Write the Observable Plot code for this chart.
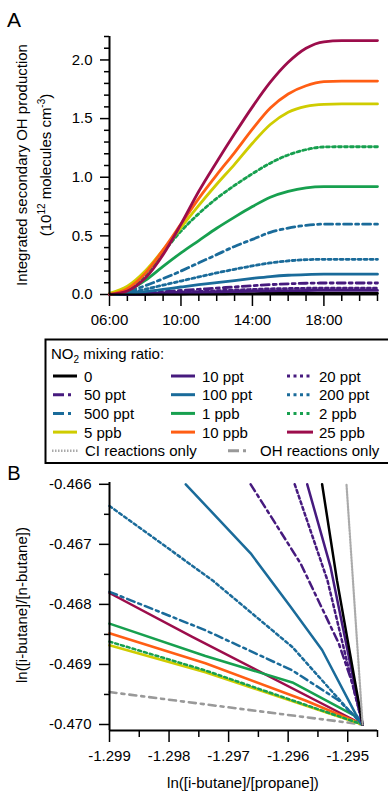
<!DOCTYPE html>
<html><head><meta charset="utf-8">
<script src="https://cdn.jsdelivr.net/npm/d3@7"></script>
<script src="https://cdn.jsdelivr.net/npm/@observablehq/plot@0.6"></script>
<style>
body{margin:0;background:#fff;font-family:"Liberation Sans",Arial,sans-serif;}
#wrap{position:relative;width:388px;height:793px;overflow:hidden;background:#fff;}
#wrap > svg{position:absolute;left:0;}
</style></head><body><div id="wrap"></div>
<script>
// ---------- Panel A data: integrated secondary OH production (1e12 molecules cm-3) ----------
const hours = [6,7,8,9,10,11,12,13,14,15,16,17,18,19,20,21];
const oh_0      = [0,0.001,0.002,0.003,0.004,0.005,0.006,0.007,0.008,0.009,0.010,0.010,0.010,0.010,0.010,0.010];
const oh_10ppt  = [0,0.002,0.005,0.009,0.013,0.017,0.021,0.025,0.028,0.031,0.033,0.034,0.035,0.035,0.035,0.035];
const oh_20ppt  = [0,0.003,0.008,0.014,0.020,0.026,0.032,0.038,0.043,0.048,0.051,0.053,0.054,0.054,0.054,0.054];
const oh_50ppt  = [0,0.005,0.014,0.024,0.034,0.044,0.054,0.065,0.075,0.084,0.091,0.096,0.098,0.098,0.098,0.098];
const oh_100ppt = [0,0.008,0.024,0.043,0.064,0.084,0.102,0.119,0.137,0.153,0.164,0.170,0.173,0.173,0.173,0.173];
const oh_200ppt = [0,0.015,0.045,0.080,0.115,0.150,0.184,0.215,0.244,0.269,0.287,0.297,0.300,0.300,0.300,0.300];
const oh_500ppt = [0,0.025,0.075,0.135,0.200,0.270,0.340,0.410,0.470,0.530,0.567,0.590,0.600,0.600,0.600,0.600];
const oh_1ppb   = [0,0.030,0.120,0.240,0.355,0.460,0.565,0.660,0.750,0.830,0.880,0.910,0.920,0.920,0.920,0.920];
const oh_2ppb   = [0,0.040,0.170,0.360,0.540,0.690,0.820,0.930,1.030,1.120,1.190,1.235,1.258,1.260,1.260,1.260];
const oh_5ppb   = [0.01,0.070,0.200,0.380,0.570,0.760,0.940,1.110,1.290,1.450,1.555,1.605,1.622,1.625,1.625,1.625];
const oh_10ppb  = [0,0.050,0.180,0.380,0.600,0.820,1.020,1.210,1.410,1.590,1.710,1.780,1.815,1.820,1.820,1.820];
const oh_25ppb  = [0,0.030,0.140,0.340,0.600,0.880,1.130,1.370,1.600,1.810,1.980,2.100,2.155,2.165,2.165,2.165];

const seriesNames  = ["0","10 ppt","20 ppt","50 ppt","100 ppt","200 ppt","500 ppt","1 ppb","2 ppb","5 ppb","10 ppb","25 ppb"];
const seriesColors = ["#000000","#461a7e","#461a7e","#461a7e","#1a6b9a","#1a6b9a","#1a6b9a","#17a04f","#17a04f","#cfcc00","#ff5e14","#9c0d4b"];
const seriesDash   = ["none","none","3,3","8,4,3,4","none","3,3","8,4,3,4","none","3,3","none","none","none"];
const ohSeries = [oh_0,oh_10ppt,oh_20ppt,oh_50ppt,oh_100ppt,oh_200ppt,oh_500ppt,oh_1ppb,oh_2ppb,oh_5ppb,oh_10ppb,oh_25ppb];

// ---------- Panel B data: ln([i-butane]/[propane]) (x) and ln([i-butane]/[n-butane]) (y) ----------
const lnProp_0     = [-1.29543,-1.29518,-1.29475];
const lnBut_0      = [-0.46600,-0.46760,-0.47000];
const lnProp_10ppt = [-1.29568,-1.29529,-1.29475];
const lnBut_10ppt  = [-0.46600,-0.46737,-0.47000];
const lnProp_20ppt = [-1.29589,-1.29534,-1.29495,-1.29475];
const lnBut_20ppt  = [-0.46600,-0.46760,-0.46921,-0.47000];
const lnProp_50ppt = [-1.29663,-1.29579,-1.29515,-1.29492,-1.29475];
const lnBut_50ppt  = [-0.46600,-0.46732,-0.46865,-0.46932,-0.47000];
const lnProp_100ppt= [-1.29772,-1.29663,-1.29596,-1.29543,-1.29487,-1.29475];
const lnBut_100ppt = [-0.46600,-0.46715,-0.46804,-0.46876,-0.46982,-0.47000];
const lnProp_200ppt= [-1.29900,-1.29727,-1.29593,-1.29503,-1.29475];
const lnBut_200ppt = [-0.46636,-0.46760,-0.46871,-0.46971,-0.47000];
const lnProp_500ppt= [-1.29900,-1.29739,-1.29593,-1.29515,-1.29475];
const lnBut_500ppt = [-0.46779,-0.46843,-0.46910,-0.46960,-0.47000];
const lnProp_1ppb  = [-1.29900,-1.29739,-1.29593,-1.29487,-1.29475];
const lnBut_1ppb   = [-0.46832,-0.46886,-0.46930,-0.46986,-0.47000];
const lnProp_2ppb  = [-1.29900,-1.29739,-1.29475];
const lnBut_2ppb   = [-0.46862,-0.46910,-0.47000];
const lnProp_5ppb  = [-1.29900,-1.29739,-1.29475];
const lnBut_5ppb   = [-0.46868,-0.46913,-0.47000];
const lnProp_10ppb = [-1.29900,-1.29739,-1.29571,-1.29475];
const lnBut_10ppb  = [-0.46848,-0.46898,-0.46960,-0.47000];
const lnProp_25ppb = [-1.29900,-1.29761,-1.29475];
const lnBut_25ppb  = [-0.46781,-0.46854,-0.47000];
const lnProp_CI    = [-1.29502,-1.29475];
const lnBut_CI     = [-0.46601,-0.47000];
const lnProp_OH    = [-1.29900,-1.29475];
const lnBut_OH     = [-0.46946,-0.47000];

const propSeries = [lnProp_0,lnProp_10ppt,lnProp_20ppt,lnProp_50ppt,lnProp_100ppt,lnProp_200ppt,lnProp_500ppt,lnProp_1ppb,lnProp_2ppb,lnProp_5ppb,lnProp_10ppb,lnProp_25ppb];
const butSeries  = [lnBut_0,lnBut_10ppt,lnBut_20ppt,lnBut_50ppt,lnBut_100ppt,lnBut_200ppt,lnBut_500ppt,lnBut_1ppb,lnBut_2ppb,lnBut_5ppb,lnBut_10ppb,lnBut_25ppb];

// ticks
const aYMajor = [0,0.5,1.0,1.5,2.0];
const aYMinor = [0.1,0.2,0.3,0.4,0.6,0.7,0.8,0.9,1.1,1.2,1.3,1.4,1.6,1.7,1.8,1.9,2.1,2.2];
const aXMajor = [6,10,14,18];
const aXMinor = [7,8,9,11,12,13,15,16,17,19,20,21];
const bYMajor = [-0.466,-0.467,-0.468,-0.469,-0.470];
const bYMinor = [-0.4665,-0.4675,-0.4685,-0.4695];
const bXMajor = [-1.299,-1.298,-1.297,-1.296,-1.295];
const bXMinor = [-1.2985,-1.2975,-1.2965,-1.2955,-1.2945];

const FONT = "Liberation Sans, Arial, sans-serif";
const wrap = document.getElementById("wrap");

// ---------- Panel A ----------
const topRows = seriesNames.flatMap((name,i)=>hours.map((h,j)=>({name,h,v:ohSeries[i][j]})));
const topPlot = Plot.plot({
  width:388, height:330,
  marginLeft:109, marginRight:11, marginTop:36, marginBottom:36,
  x:{domain:[6,21]}, y:{domain:[0,2.2]},
  style:{fontFamily:FONT, fontSize:"15px", color:"#000", background:"transparent", overflow:"visible"},
  marks:[
    Plot.axisY(aYMinor,{tickSize:5, tickFormat:()=>"", label:null, strokeWidth:1.5}),
    Plot.axisY(aYMajor,{tickSize:9, tickPadding:8, tickFormat:d=>d.toFixed(1), label:null, strokeWidth:1.5, fontSize:15}),
    Plot.axisX(aXMinor,{tickSize:7, tickFormat:()=>"", label:null, strokeWidth:1.5}),
    Plot.axisX(aXMajor,{tickSize:12, tickPadding:8, tickFormat:d=>String(d).padStart(2,"0")+":00", label:null, strokeWidth:1.5, fontSize:15}),
    ...seriesNames.map((name,i)=>Plot.line(topRows,{filter:d=>d.name===name, x:"h", y:"v", stroke:seriesColors[i], strokeWidth:2.8, strokeDasharray:seriesDash[i], curve:"monotone-x"})),
    Plot.ruleX([6],{strokeWidth:2}),
    Plot.ruleY([0],{strokeWidth:2})
  ]
});
topPlot.style.top = "0px";
wrap.appendChild(topPlot);
{
  const s = d3.select(topPlot);
  s.append("text").attr("x",14).attr("y",27).attr("font-size",21).attr("font-family",FONT).text("A");
  s.append("text").attr("transform","translate(27,165) rotate(-90)").attr("text-anchor","middle")
    .attr("font-size",15).attr("font-family",FONT).text("Integrated secondary OH production");
  const t = s.append("text").attr("transform","translate(51,165) rotate(-90)").attr("text-anchor","middle")
    .attr("font-size",15).attr("font-family",FONT);
  t.append("tspan").text("(10");
  t.append("tspan").attr("dy",-6).attr("font-size",10).text("12");
  t.append("tspan").attr("dy",6).text(" molecules cm");
  t.append("tspan").attr("dy",-6).attr("font-size",10).text("-3");
  t.append("tspan").attr("dy",6).text(")");
}

// ---------- Legend ----------
{
  const L = d3.create("svg").attr("width",388).attr("height",140).style("top","330px")
    .attr("font-family",FONT).attr("font-size",15);
  L.append("rect").attr("x",45.5).attr("y",9.5).attr("width",360).attr("height",123.5)
    .attr("fill","#fff").attr("stroke","#000").attr("stroke-width",2);
  const tt = L.append("text").attr("x",51).attr("y",29);
  tt.append("tspan").text("NO");
  tt.append("tspan").attr("dy",4).attr("font-size",10).text("2");
  tt.append("tspan").attr("dy",-4).text(" mixing ratio:");
  const cols = [[53,77,84],[171,195,202],[287,311,319]];
  const legDash = d=> d==="8,4,3,4" ? "11,4,3,6" : (d==="3,3" ? "3,3.5" : null);
  seriesNames.forEach((name,i)=>{
    const r = Math.floor(i/3), c = i%3;
    const cy = 46 + r*18.7;
    const [x1,x2,tx] = cols[c];
    L.append("line").attr("x1",x1).attr("x2",name==="25 ppb"?x2+2:x2).attr("y1",cy).attr("y2",cy)
      .attr("stroke",seriesColors[i]).attr("stroke-width",3).attr("stroke-dasharray",legDash(seriesDash[i]));
    L.append("text").attr("x",tx).attr("y",cy+5.5).text(name);
  });
  const cy5 = 46 + 4*18.7;
  L.append("line").attr("x1",52).attr("x2",79).attr("y1",cy5).attr("y2",cy5).attr("stroke","#aaaaaa").attr("stroke-width",2.5).attr("stroke-dasharray","1.5,1.5");
  L.append("text").attr("x",85).attr("y",cy5+5.5).text("CI reactions only");
  L.append("line").attr("x1",228).attr("x2",249).attr("y1",cy5).attr("y2",cy5).attr("stroke","#999999").attr("stroke-width",3).attr("stroke-dasharray","11,4,3,6");
  L.append("text").attr("x",260).attr("y",cy5+5.5).text("OH reactions only");
  wrap.appendChild(L.node());
}

// ---------- Panel B ----------
const botRows = seriesNames.flatMap((name,i)=>propSeries[i].map((x,j)=>({name,x,y:butSeries[i][j]})));
const ciRows = lnProp_CI.map((x,j)=>({x,y:lnBut_CI[j]}));
const ohRows = lnProp_OH.map((x,j)=>({x,y:lnBut_OH[j]}));
const order = [11,10,9,8,7,6,5,4,3,2,1,0];
const botPlot = Plot.plot({
  width:388, height:353,
  marginLeft:109, marginRight:11, marginTop:42, marginBottom:63,
  x:{domain:[-1.299,-1.2945]}, y:{domain:[-0.4701,-0.46597]},
  style:{fontFamily:FONT, fontSize:"15px", color:"#000", background:"transparent", overflow:"visible"},
  marks:[
    Plot.axisY(bYMinor,{tickSize:5, tickFormat:()=>"", label:null, strokeWidth:1.5}),
    Plot.axisY(bYMajor,{tickSize:10, tickPadding:8, tickFormat:d=>d.toFixed(3), label:null, strokeWidth:1.5, fontSize:15}),
    Plot.axisX(bXMinor,{tickSize:7, tickFormat:()=>"", label:null, strokeWidth:1.5}),
    Plot.axisX(bXMajor,{tickSize:12, tickPadding:8, tickFormat:d=>d.toFixed(3), label:null, strokeWidth:1.5, fontSize:15}),
    Plot.line(ohRows,{x:"x", y:"y", stroke:"#999999", strokeWidth:2.6, strokeDasharray:"7,5,3,5"}),
    ...order.map(i=>Plot.line(botRows,{filter:d=>d.name===seriesNames[i], x:"x", y:"y", stroke:seriesColors[i], strokeWidth:2.5, strokeDasharray:seriesDash[i]})),
    Plot.line(ciRows,{x:"x", y:"y", stroke:"#aaaaaa", strokeWidth:2.2, strokeDasharray:"1.5,1.5"}),
    Plot.ruleX([-1.299],{strokeWidth:2}),
    Plot.ruleY([-0.4701],{strokeWidth:2})
  ]
});
botPlot.style.top = "440px";
wrap.appendChild(botPlot);
{
  const s = d3.select(botPlot);
  s.append("text").attr("x",14).attr("y",40).attr("font-size",20).attr("font-family",FONT).text("B");
  s.append("text").attr("transform","translate(27,165) rotate(-90)").attr("text-anchor","middle")
    .attr("font-size",15).attr("font-family",FONT).text("ln([i-butane]/[n-butane])");
  s.append("text").attr("x",243).attr("y",348).attr("text-anchor","middle")
    .attr("font-size",15).attr("font-family",FONT).text("ln([i-butane]/[propane])");
}
</script></body></html>
